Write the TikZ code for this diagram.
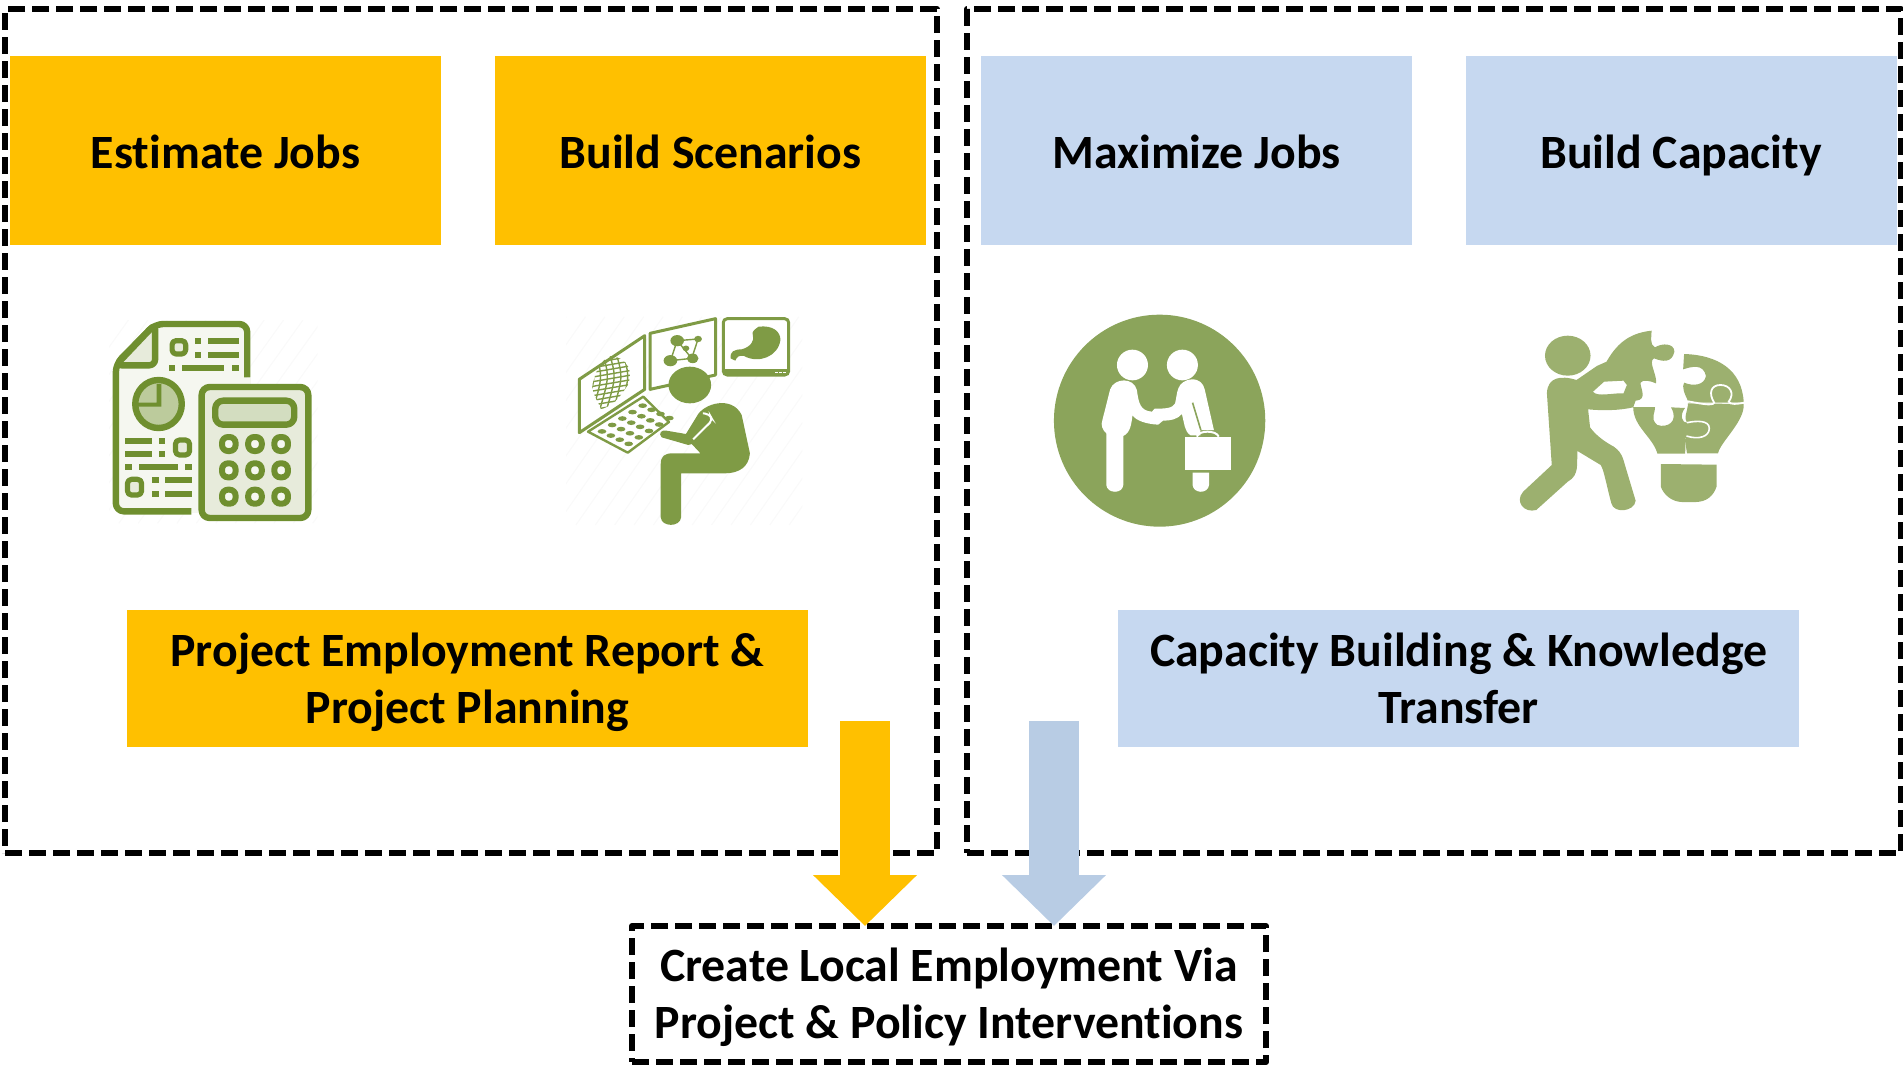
\documentclass[tikz,border=0pt]{standalone}
\usepackage{fontspec}
\setmainfont{Carlito}[Ligatures=NoCommon]
\usetikzlibrary{arrows.meta,calc}
\definecolor{amber}{HTML}{FFC000}
\definecolor{paleblue}{HTML}{C6D8F0}
\definecolor{arrowblue}{HTML}{B8CCE4}
\definecolor{icondark}{HTML}{6F8F2F}
\definecolor{iconmid}{HTML}{7F9B45}
\definecolor{iconshake}{HTML}{8BA45B}
\definecolor{iconpuzzle}{HTML}{9CB06F}
\definecolor{iconpale}{HTML}{E7EBDB}
\definecolor{iconpaper}{HTML}{F5F7F0}
\definecolor{iconpie}{HTML}{BCCB9C}
\definecolor{icondisplay}{HTML}{D3DDC0}
\newcommand{\lstrut}{\rule[-5.35pt]{0pt}{28.5pt}}
\newcommand{\wstrut}{\rule[-6.2pt]{0pt}{28.5pt}}
\tikzset{
  x=0.5pt,y=-0.5pt,
  labeltext/.style={font=\bfseries\fontsize{23.9}{28.5}\selectfont,align=center,text=black,inner sep=0pt,outer sep=0pt},
  topbox/.style={labeltext,minimum width=215.5pt,minimum height=94.5pt},
  amberbox/.style={fill=amber},
  bluebox/.style={fill=paleblue},
  widebox/.style={labeltext,minimum width=340.5pt,minimum height=68.5pt},
  dashframe/.style={draw=black,line width=3pt,dash pattern=on 8.5pt off 3.5pt,line join=round,outer sep=0pt},
  blockarrow/.style={line width=25pt,-{Triangle[length=25.5pt,width=50.5pt]}},
  iconzoomA/.style={x=0.24237pt,y=-0.16667pt},
  stroked/.style={draw=icondark,line width=3.2pt,line join=round},
  thinline/.style={draw=iconmid,line width=0.7pt},
}
\newcommand{\barA}[4]{\fill[icondark] (#1,#2) rectangle (#3,#4);}
\begin{document}
\begin{tikzpicture}
\useasboundingbox (0,0) rectangle (1903,1066);
% frames
\node[dashframe,minimum width=466pt,minimum height=422pt,inner sep=0pt] (leftframe) at (471,431) {};
\node[dashframe,minimum width=467pt,minimum height=422pt,inner sep=0pt] (rightframe) at (1434,431) {};
% top boxes
\node[topbox,amberbox] (estimate) at (225.5,150.5) {\lstrut Estimate Jobs};
\node[topbox,amberbox] (scenarios) at (710.5,150.5) {\lstrut Build Scenarios};
\node[topbox,bluebox] (maximize) at (1196.5,150.5) {\lstrut Maximize Jobs};
\node[topbox,bluebox] (capacity) at (1681,150.5) {\lstrut Build Capacity};
% wide boxes
\node[widebox,amberbox] (report) at (467.5,678.5) {\wstrut Project Employment Report \&\\\wstrut Project Planning};
\node[widebox,bluebox] (transfer) at (1458.5,678.5) {\wstrut Capacity Building \& Knowledge\\\wstrut Transfer};
% goal
\node[dashframe,labeltext,minimum width=317pt,minimum height=68pt] (goal) at (949,994) {\wstrut Create Local Employment Via\\\wstrut Project \& Policy Interventions};
% arrows
\coordinate (ambertail) at (865,721);
\coordinate (bluetail) at (1054,721);
\draw[blockarrow,amber] (ambertail) -- (ambertail |- goal.north);
\draw[blockarrow,arrowblue] (bluetail) -- (bluetail |- goal.north);
% ---------- document and calculator icon
\begin{scope}[shift={(80,290)},iconzoomA]
  \begin{scope}
    \clip (60,90) rectangle (490,700);
    \foreach \dd in {-300,-260,...,500}{\draw[black!2,line width=0.6pt] (60+\dd,700) -- (360+\dd,90);}
  \end{scope}
  \draw[stroked,fill=iconpaper,rounded corners=4pt] (230,664) -- (74,664) -- (74,222) -- (155,102) -- (345,102) -- (345,262);
  \fill[iconpaper] (232,264) rectangle (352,668);
  \filldraw[stroked,fill=iconpale,rounded corners=3pt] (155,102) -- (155,226) -- (74,226) -- cycle;
  % top block
  \filldraw[stroked,fill=iconpale,line width=2.6pt,rounded corners=2pt] (190,152) rectangle (218,192);
  \barA{238}{145}{250}{162}\barA{265}{145}{327}{163}
  \barA{238}{185}{250}{203}\barA{265}{185}{327}{203}
  \barA{183}{224}{196}{244}\barA{210}{224}{298}{244}\barA{313}{224}{327}{244}
  % pie
  \filldraw[stroked,fill=iconpie] (162,342) ellipse [x radius=48,y radius=72];
  \fill[icondark] (158,282) -- (168,282) -- (168,350) -- (118,350) -- (118,338) -- (158,338) -- cycle;
  % middle lines
  \barA{93}{445}{148}{462}\barA{163}{445}{176}{462}
  \barA{93}{484}{148}{501}\barA{163}{484}{176}{501}
  \filldraw[stroked,fill=iconpale,line width=2.6pt,rounded corners=2pt] (197,450) rectangle (226,495);
  \barA{93}{523}{107}{541}\barA{122}{523}{202}{541}\barA{217}{523}{231}{541}
  \filldraw[stroked,fill=iconpale,line width=2.6pt,rounded corners=2pt] (98,568) rectangle (127,615);
  \barA{148}{562}{162}{580}\barA{176}{562}{231}{580}
  \barA{148}{602}{162}{620}\barA{176}{602}{231}{620}
  % calculator
  \filldraw[stroked,fill=iconpale,rounded corners=4pt] (251,291) rectangle (471,684);
  \filldraw[stroked,fill=icondisplay,rounded corners=4pt] (279,332) rectangle (442,404);
  \foreach \yy in {462,541,620}{\foreach \xx in {307,361,415}{
    \filldraw[draw=icondark,line width=3pt,fill=iconpaper,rounded corners=3pt] ($(\xx,\yy)+(-14,-21)$) rectangle ($(\xx,\yy)+(14,21)$);
  }}
  % person at screens
  \begin{scope}
    \clip (1003,80) rectangle (1490,705);
    \foreach \dd in {-300,-260,...,500}{\draw[black!2,line width=0.6pt] (1003+\dd,705) -- (1303+\dd,80);}
  \end{scope}
  \filldraw[draw=iconmid,line width=1.5pt,fill=white,line join=round] (1030,268) -- (1165,137) -- (1165,298) -- (1030,428) -- cycle;
  \filldraw[draw=iconmid,line width=1.5pt,fill=white,line join=round] (1176,130) -- (1311,86) -- (1311,255) -- (1176,298) -- cycle;
  \filldraw[draw=iconmid,line width=1.5pt,fill=white,rounded corners=2pt] (1327,86) rectangle (1462,255);
  \fill[iconmid] (1327,238) rectangle (1462,255);
  \foreach \xx in {1436,1445,1454}{\fill[white] (\xx-3,245) rectangle (\xx+3,250);}
  % brain mesh
  \begin{scope}
    \clip (1095,198) .. controls (1135,205) and (1140,250) .. (1130,285) .. controls (1110,330) and (1100,345) .. (1075,358) .. controls (1068,330) and (1050,300) .. (1060,270) .. controls (1065,240) and (1075,210) .. (1095,198) -- cycle;
    \foreach \yy in {195,209,...,360}{\draw[thinline] (1050,\yy+12) -- (1145,\yy-12);}
    \foreach \xx in {1050,1064,...,1145}{\draw[thinline] (\xx,190) .. controls (\xx+14,260) .. (\xx-6,360);}
  \end{scope}
  % molecule
  \draw[thinline] (1232,152) -- (1275,147) -- (1262,205) -- (1218,212) -- cycle;
  \draw[thinline] (1232,152) -- (1262,205);
  \foreach \xx/\yy/\rr in {1232/152/14,1275/147/8,1250/175/7,1218/212/14,1264/205/12}{\fill[iconmid] (\xx,\yy) ellipse [x radius=\rr,y radius=\rr*1.2];}
  % stomach
  \fill[iconmid] (1400,110) .. controls (1392,118) and (1385,125) .. (1388,135) .. controls (1392,150) and (1385,170) .. (1365,178) .. controls (1350,178) and (1340,185) .. (1342,205) -- (1352,212) .. controls (1355,200) and (1360,195) .. (1370,198) .. controls (1400,222) and (1440,200) .. (1445,150) .. controls (1445,125) and (1430,105) .. (1400,110) -- cycle;
  % keyboard
  \filldraw[draw=iconmid,line width=1.2pt,fill=white,line join=round] (1048,425) -- (1162,320) -- (1215,396) -- (1130,488) -- cycle;
  \foreach \uu in {0.08,0.29,0.5,0.71,0.92}{\foreach \vv in {0.1,0.37,0.64,0.91}{
    \fill[iconmid] ($(1062,427)+\uu*(100,-92)+\vv*(68,46)$) ellipse [x radius=9,y radius=7];
  }}
  % person
  \fill[iconmid] (1258,285) ellipse [x radius=44,y radius=55];
  \fill[iconmid] (1272,380) .. controls (1285,340) and (1345,315) .. (1365,375) -- (1382,490) .. controls (1380,530) and (1360,550) .. (1330,550) -- (1240,550) -- (1240,682) .. controls (1238,712) and (1200,712) .. (1198,682) -- (1198,522) .. controls (1198,500) and (1205,490) .. (1222,490) -- (1280,490) -- (1262,462) -- (1255,465) -- (1200,442) .. controls (1192,430) and (1200,418) .. (1210,422) -- (1250,432) -- cycle;
  \draw[white,line width=1pt,rounded corners=2pt] (1265,448) -- (1305,390) -- (1298,372) -- (1285,370);
\end{scope}
% ---------- handshake icon
\begin{scope}[shift={(1020,290)},iconzoomA]
  \fill[iconshake] (288,392) ellipse [x radius=218,y radius=318];
  \fill[white] (232,225) ellipse [x radius=32,y radius=46];
  \fill[white] (335,225) ellipse [x radius=32,y radius=46];
  \fill[white] (186,298) .. controls (195,262) and (235,262) .. (241,300) .. controls (245,340) and (248,362) .. (272,365) -- (278,356) .. controls (300,356) and (315,355) .. (320,340) .. controls (325,310) and (322,272) .. (355,268) .. controls (370,268) and (378,280) .. (381,298) -- (400,420) -- (372,420) -- (372,436) -- (352,436) .. controls (345,430) and (342,420) .. (340,410) -- (334,372) .. controls (325,388) and (310,392) .. (295,392) -- (285,404) .. controls (260,402) and (240,392) .. (232,376) .. controls (230,400) and (228,428) .. (213,438) -- (213,585) .. controls (212,612) and (180,612) .. (178,585) -- (178,430) .. controls (170,420) and (166,405) .. (170,390) -- cycle;
  \draw[iconshake,line width=0.8pt] (356,338) -- (373,420);
  \fill[white] (340,440) rectangle (435,541);
  \fill[white] (356,548) -- (390,548) -- (390,585) .. controls (388,612) and (358,612) .. (356,585) -- cycle;
  \draw[white,line width=1pt] (365,440) .. controls (368,420) and (405,420) .. (410,440);
  % ---------- puzzle bulb icon
  \fill[iconpuzzle] (1130,197) ellipse [x radius=47,y radius=60];
  \fill[iconpuzzle,even odd rule] (1087,310) .. controls (1088,262) and (1115,255) .. (1148,270) -- (1190,228) -- (1210,215) .. controls (1235,150) and (1265,128) .. (1303,122) .. controls (1303,135) and (1298,165) .. (1310,172) .. controls (1325,158) and (1350,160) .. (1350,185) .. controls (1345,220) and (1325,215) .. (1308,205) .. controls (1295,215) and (1315,255) .. (1312,280) .. controls (1300,272) and (1285,268) .. (1280,278) .. controls (1280,295) and (1295,330) .. (1270,332) -- (1265,352) .. controls (1235,362) and (1200,362) .. (1172,358) -- (1176,412) .. controls (1190,440) and (1210,458) .. (1225,470) .. controls (1245,490) and (1245,515) .. (1250,535) -- (1270,632) .. controls (1268,665) and (1225,672) .. (1220,640) .. controls (1212,600) and (1205,540) .. (1198,525) -- (1150,483) .. controls (1148,520) and (1155,555) .. (1130,575) -- (1065,660) .. controls (1040,670) and (1020,635) .. (1038,605) -- (1097,525) -- cycle
   (1205,275) -- (1245,272) -- (1252,285) -- (1245,310) .. controls (1225,308) and (1190,322) .. (1182,305) -- cycle;
  % bulb pieces, locked together with thin white seams
  \fill[iconpuzzle] (1370,192) .. controls (1440,195) and (1490,240) .. (1493,338) -- (1380,338) .. controls (1370,310) and (1365,290) .. (1370,278) .. controls (1390,290) and (1412,285) .. (1415,258) .. controls (1410,220) and (1385,230) .. (1368,238) -- cycle;
  \fill[iconpuzzle] (1378,340) -- (1493,342) .. controls (1495,395) and (1445,455) .. (1440,490) -- (1376,490) .. controls (1375,470) and (1368,450) .. (1375,438) -- (1376,398) .. controls (1368,385) and (1378,360) .. (1378,340) -- cycle;
  \fill[iconpuzzle] (1265,351) -- (1310,351) .. controls (1312,365) and (1298,385) .. (1315,405) .. controls (1335,415) and (1360,395) .. (1343,352) -- (1372,354) .. controls (1360,375) and (1366,400) .. (1376,398) .. controls (1395,392) and (1422,390) .. (1422,415) .. controls (1422,440) and (1400,450) .. (1375,438) .. controls (1368,450) and (1375,470) .. (1372,491) -- (1315,491) .. controls (1305,440) and (1265,410) .. (1265,351) -- cycle;
  \draw[white,line width=0.8pt] (1376,398) .. controls (1395,392) and (1422,390) .. (1422,415) .. controls (1422,440) and (1400,450) .. (1375,438);
  \draw[white,line width=0.9pt] (1378,334) .. controls (1395,338) and (1430,350) .. (1432,338) .. controls (1420,310) and (1425,285) .. (1445,285) .. controls (1465,285) and (1475,310) .. (1462,335) .. controls (1465,345) and (1480,342) .. (1494,338);
  \fill[iconpuzzle] (1322,522) -- (1437,524) -- (1437,590) .. controls (1430,620) and (1415,635) .. (1395,636) -- (1365,636) .. controls (1345,635) and (1328,615) .. (1322,590) -- cycle;
\end{scope}
\end{tikzpicture}
\end{document}
